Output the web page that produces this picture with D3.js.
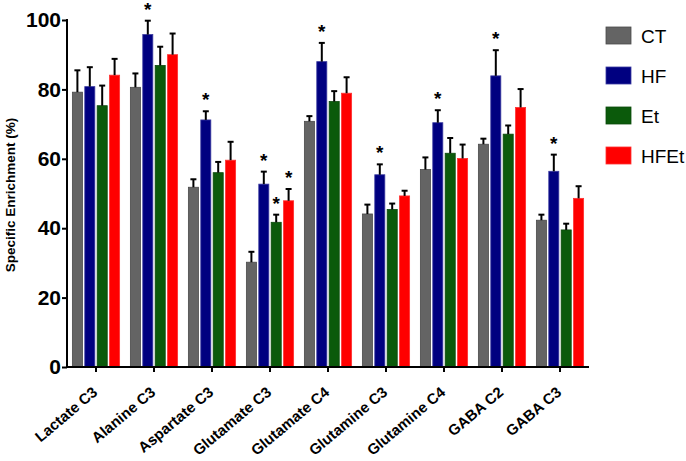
<!DOCTYPE html>
<html><head><meta charset="utf-8">
<script src="https://cdn.jsdelivr.net/npm/d3@7"></script>
<style>body{margin:0;background:#fff;} svg{display:block;}</style>
</head><body>
<svg id="c" width="686" height="461"></svg>
<script>
const categories = ["Lactate C3","Alanine C3","Aspartate C3","Glutamate C3","Glutamate C4","Glutamine C3","Glutamine C4","GABA C2","GABA C3"];
const series = ["CT","HF","Et","HFEt"];
const colors = ["#646464","#000080","#0b5a0b","#ff0000"];
const strokes = ["#4a4a4a","#3a3aa0","#0b4a0b","#ff3030"];
const meanCT   = [79.2,80.6,51.8,30.2,70.8,44.1,56.9,64.2,42.3];
const meanHF   = [80.8,95.8,71.2,52.7,88.0,55.4,70.4,83.9,56.4];
const meanEt   = [75.3,86.9,56.0,41.7,76.5,45.4,61.6,67.1,39.5];
const meanHFEt = [84.1,90.0,59.6,47.9,78.9,49.3,60.1,74.8,48.6];
const errCT    = [6.3,4.0,2.3,3.0,1.5,2.7,3.5,1.6,1.6];
const errHF    = [5.6,4.0,2.5,3.6,5.4,3.0,3.6,7.4,4.8];
const errEt    = [5.8,5.4,3.1,2.2,3.0,1.7,4.4,2.5,1.8];
const errHFEt  = [4.7,6.1,5.3,3.4,4.6,1.5,4.0,5.3,3.5];
// significance flags per series (1 = asterisk)
const sigCT    = [0,0,0,0,0,0,0,0,0];
const sigHF    = [0,1,1,1,1,1,1,1,1];
const sigEt    = [0,0,0,1,0,0,0,0,0];
const sigHFEt  = [0,0,0,1,0,0,0,0,0];
const yTicks = [0,20,40,60,80,100];
const yTitle = "Specific Enrichment (%)";

const means = [meanCT, meanHF, meanEt, meanHFEt];
const errs = [errCT, errHF, errEt, errHFEt];
const sigs = [sigCT, sigHF, sigEt, sigHFEt];

const svg = d3.select("#c");
const FONT = "'Liberation Sans', Arial, sans-serif";

const x0 = d3.scaleBand().domain(categories).range([67, 589]).paddingInner(0.145).paddingOuter(0.0725);
const x1 = d3.scaleBand().domain(series).range([0, x0.bandwidth()]).paddingInner(0.19).paddingOuter(0.095);
const y = d3.scaleLinear().domain([0, 100]).range([367, 20]);

const data = [];
categories.forEach((c, i) => {
  series.forEach((s, j) => {
    data.push({c, s, j, v: means[j][i], e: errs[j][i], sig: sigs[j][i]});
  });
});

const g = svg.append("g");
// bars
g.selectAll("rect.bar").data(data).join("rect")
  .attr("class","bar")
  .attr("x", d => x0(d.c) + x1(d.s))
  .attr("y", d => y(d.v))
  .attr("width", x1.bandwidth())
  .attr("height", d => y(0) - y(d.v))
  .attr("fill", d => colors[d.j])
  .attr("stroke", d => strokes[d.j])
  .attr("stroke-width", 0.8);

// error bars
const eb = g.selectAll("g.err").data(data).join("g").attr("class","err");
eb.append("line")
  .attr("x1", d => x0(d.c) + x1(d.s) + x1.bandwidth()/2)
  .attr("x2", d => x0(d.c) + x1(d.s) + x1.bandwidth()/2)
  .attr("y1", d => y(d.v))
  .attr("y2", d => y(d.v + d.e))
  .attr("stroke", "#000").attr("stroke-width", 2);
eb.append("line")
  .attr("x1", d => x0(d.c) + x1(d.s) + x1.bandwidth()/2 - 3)
  .attr("x2", d => x0(d.c) + x1(d.s) + x1.bandwidth()/2 + 3)
  .attr("y1", d => y(d.v + d.e))
  .attr("y2", d => y(d.v + d.e))
  .attr("stroke", "#000").attr("stroke-width", 2);

// asterisks
g.selectAll("text.sig").data(data.filter(d => d.sig)).join("text")
  .attr("class","sig")
  .attr("x", d => x0(d.c) + x1(d.s) + x1.bandwidth()/2)
  .attr("y", d => y(d.v + d.e) - 5)
  .attr("text-anchor","middle")
  .attr("font-family", FONT).attr("font-weight","bold").attr("font-size", 19)
  .text("*");

// y axis
const yAxis = svg.append("g").attr("transform","translate(67,0)")
  .call(d3.axisLeft(y).tickValues(yTicks).tickSize(5).tickPadding(1));
yAxis.select(".domain").attr("stroke","#000").attr("stroke-width",2).attr("d","M0,367V19");
yAxis.selectAll(".tick line").attr("stroke","#000").attr("stroke-width",2);
yAxis.selectAll(".tick text").attr("font-family",FONT).attr("font-weight","bold").attr("font-size",21).attr("fill","#000");

// x axis
const xAxis = svg.append("g").attr("transform","translate(0,367)")
  .call(d3.axisBottom(x0).tickSize(5).tickSizeOuter(0));
xAxis.select(".domain").attr("stroke","#000").attr("stroke-width",2).attr("d","M66,0H589");
xAxis.selectAll(".tick line").attr("stroke","#000").attr("stroke-width",2);
xAxis.selectAll(".tick text")
  .attr("font-family",FONT).attr("font-weight","bold").attr("font-size",15).attr("fill","#000")
  .attr("text-anchor","end")
  .attr("dy", null).attr("y", 0)
  .attr("transform","translate(2.5,27) rotate(-40)");

// y title
svg.append("text")
  .attr("transform","translate(15,195) rotate(-90)")
  .attr("text-anchor","middle")
  .attr("font-family",FONT).attr("font-weight","bold").attr("font-size",13.5)
  .text(yTitle);

// legend
const lg = svg.append("g").selectAll("g").data(series).join("g")
  .attr("transform",(d,i)=>`translate(606,${27 + i*40})`);
lg.append("rect").attr("width",25).attr("height",17)
  .attr("fill",(d,i)=>colors[i]).attr("stroke",(d,i)=>strokes[i]).attr("stroke-width",0.8);
lg.append("text").attr("x",35).attr("y",15.5)
  .attr("font-family",FONT).attr("font-size",19).text(d=>d);
</script>
</body></html>
